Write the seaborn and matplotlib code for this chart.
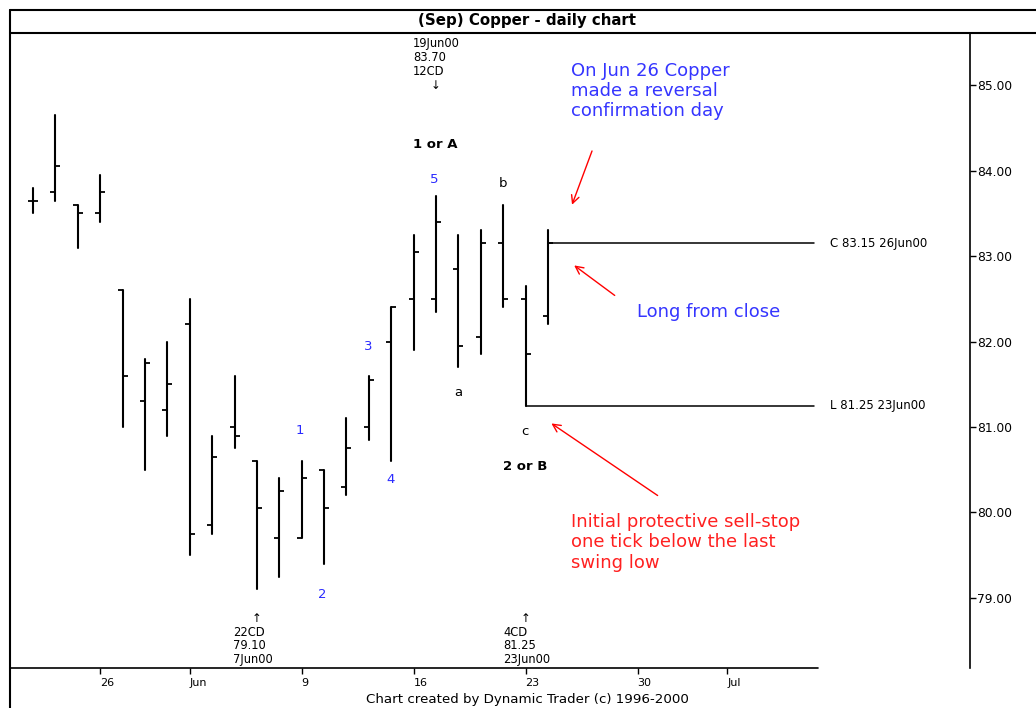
import matplotlib
matplotlib.use("Agg")
import matplotlib.pyplot as plt
from matplotlib.lines import Line2D
import pandas as pd
import seaborn as sns

# Sep copper daily bars, 23 May - 26 Jun 2000
dates = ["23May", "24May", "25May", "26May", "30May", "31May", "1Jun", "2Jun",
         "5Jun", "6Jun", "7Jun", "8Jun", "9Jun", "12Jun", "13Jun", "14Jun",
         "15Jun", "16Jun", "19Jun", "20Jun", "21Jun", "22Jun", "23Jun", "26Jun"]
opens = [83.65, 83.75, 83.60, 83.50, 82.60, 81.30, 81.20, 82.20,
         79.85, 81.00, 80.60, 79.70, 79.70, 80.50, 80.30, 81.00,
         82.00, 82.50, 82.50, 82.85, 82.05, 83.15, 82.50, 82.30]
highs = [83.80, 84.65, 83.60, 83.95, 82.60, 81.80, 82.00, 82.50,
         80.90, 81.60, 80.60, 80.40, 80.60, 80.50, 81.10, 81.60,
         82.40, 83.25, 83.70, 83.25, 83.30, 83.60, 82.65, 83.30]
lows = [83.50, 83.65, 83.10, 83.40, 81.00, 80.50, 80.90, 79.50,
        79.75, 80.75, 79.10, 79.25, 79.70, 79.40, 80.20, 80.85,
        80.60, 81.90, 82.35, 81.70, 81.85, 82.40, 81.25, 82.20]
closes = [83.65, 84.05, 83.50, 83.75, 81.60, 81.75, 81.50, 79.75,
          80.65, 80.90, 80.05, 80.25, 80.40, 80.05, 80.75, 81.55,
          82.40, 83.05, 83.40, 81.95, 83.15, 82.50, 81.85, 83.15]

# x axis: trading day index, labels on fridays
tick_pos = [3, 7, 12, 17, 22, 27, 31]
tick_labels = ["26", "Jun", "9", "16", "23", "30", "Jul"]
price_ticks = [79, 80, 81, 82, 83, 84, 85]

# wave counts (text, day, price, colour)
wave_labels = [("5", 17.9, 83.90, "#2a2aff"), ("b", 21.0, 83.85, "black"),
               ("3", 14.95, 81.94, "#2a2aff"), ("a", 19.0, 81.40, "black"),
               ("1", 11.9, 80.96, "#2a2aff"), ("4", 15.95, 80.39, "#2a2aff"),
               ("2", 12.9, 79.04, "#2a2aff"), ("c", 21.95, 80.95, "black")]

sns.set_style("white")
plt.rcParams["font.family"] = ["DejaVu Sans"]
plt.rcParams["text.color"] = "black"

df = pd.DataFrame({"day": range(len(dates)), "date": dates, "open": opens,
                   "high": highs, "low": lows, "close": closes})
rng = df.melt(id_vars="day", value_vars=["high", "low"], value_name="price")

fig = plt.figure(figsize=(10.36, 7.08), dpi=100)
W, H = 1036, 708
ax = fig.add_axes([10 / W, 1 - 668 / H, 960 / W, 635 / H])

# high-low bars
sns.lineplot(data=rng, x="day", y="price", units="day", estimator=None,
             color="black", lw=1.5, ax=ax, legend=False)
# open tick (left) and close tick (right)
sns.scatterplot(data=df, x="day", y="open", marker=[(-1, 0), (0, 0)], s=45,
                color="black", edgecolor="black", linewidth=1.3, ax=ax, legend=False)
sns.scatterplot(data=df, x="day", y="close", marker=[(0, 0), (1, 0)], s=45,
                color="black", edgecolor="black", linewidth=1.3, ax=ax, legend=False)

ax.set_xlim(-1.03, 41.85)
ax.set_ylim(78.18, 85.61)
ax.set_xlabel("")
ax.set_ylabel("")

for s in ["top", "bottom", "left"]:
    ax.spines[s].set_visible(False)
ax.spines["right"].set_color("black")
ax.spines["right"].set_linewidth(1.2)

ax.yaxis.tick_right()
ax.set_yticks(price_ticks)
ax.set_yticklabels([f"{v:.2f}" for v in price_ticks])
ax.tick_params(axis="y", right=True, direction="out", length=4, width=1, pad=1,
               labelsize=8.8, colors="black")
ax.set_xticks(tick_pos)
ax.set_xticklabels(tick_labels, ha="left")
ax.tick_params(axis="x", bottom=True, direction="out", length=4, width=1, pad=3,
               labelsize=8, colors="black")
# bottom axis line stops short of the price axis
ax.axhline(78.18, xmin=0, xmax=808 / 960, color="black", lw=1.2, clip_on=False)

# stop / close lines
ax.plot([23, 34.9], [closes[23], closes[23]], color="black", lw=1.1)
ax.plot([22, 34.9], [lows[22], lows[22]], color="black", lw=1.1)
ax.text(35.6, closes[23], "C 83.15 26Jun00", fontsize=8.5, va="center")
ax.text(35.6, lows[22], "L 81.25 23Jun00", fontsize=8.5, va="center")

for t, x, y, c in wave_labels:
    ax.text(x, y, t, color=c, fontsize=9.5, ha="center", va="center")

ax.text(16.97, 85.56, "19Jun00\n83.70\n12CD", fontsize=8.3, va="top",
        linespacing=1.08)
ax.text(18.0, 84.99, "\u2193", fontsize=8.5, ha="center", va="center")
ax.text(16.97, 84.31, "1 or A", fontsize=9.5, fontweight="bold", va="center")
ax.text(20.99, 80.54, "2 or B", fontsize=9.5, fontweight="bold", va="center")

ax.text(10.0, 78.76, "\u2191", fontsize=8.5, ha="center", va="center")
ax.text(8.93, 78.20, "22CD\n79.10\n7Jun00", fontsize=8.3, va="bottom",
        linespacing=1.08)
ax.text(22.02, 78.76, "\u2191", fontsize=8.5, ha="center", va="center")
ax.text(20.99, 78.20, "4CD\n81.25\n23Jun00", fontsize=8.3, va="bottom",
        linespacing=1.08)

# notes
ax.text(24.03, 85.27, "On Jun 26 Copper\nmade a reversal\nconfirmation day",
        color="#3535ff", fontsize=13, va="top", linespacing=1.15)
ax.text(26.98, 82.345, "Long from close", color="#3535ff", fontsize=13, va="center")
ax.text(24.03, 79.99, "Initial protective sell-stop\none tick below the last\nswing low",
        color="#ff2020", fontsize=13, va="top", linespacing=1.15)

arrows = [((25.01, 84.26), (24.03, 83.57)),
          ((26.08, 82.52), (24.07, 82.91)),
          ((28.0, 80.18), (23.05, 81.06))]
for start, end in arrows:
    ax.annotate("", xy=end, xytext=start,
                arrowprops=dict(arrowstyle="->", color="red", lw=1, mutation_scale=14))

# frame and title bar
fig.add_artist(Line2D([10 / W, 1], [1 - 10 / H] * 2, color="black", lw=1.5))
fig.add_artist(Line2D([10 / W, 1], [1 - 33 / H] * 2, color="black", lw=1.5))
fig.add_artist(Line2D([10 / W] * 2, [0, 1 - 10 / H], color="black", lw=1.5))
fig.text(527 / W, 1 - 21 / H, "(Sep) Copper - daily chart", ha="center",
         va="center", fontsize=10.8, fontweight="bold")
fig.text(527 / W, 1 - 700 / H, "Chart created by Dynamic Trader (c) 1996-2000",
         ha="center", va="center", fontsize=9.6)

fig.savefig("out.png", dpi=100)
